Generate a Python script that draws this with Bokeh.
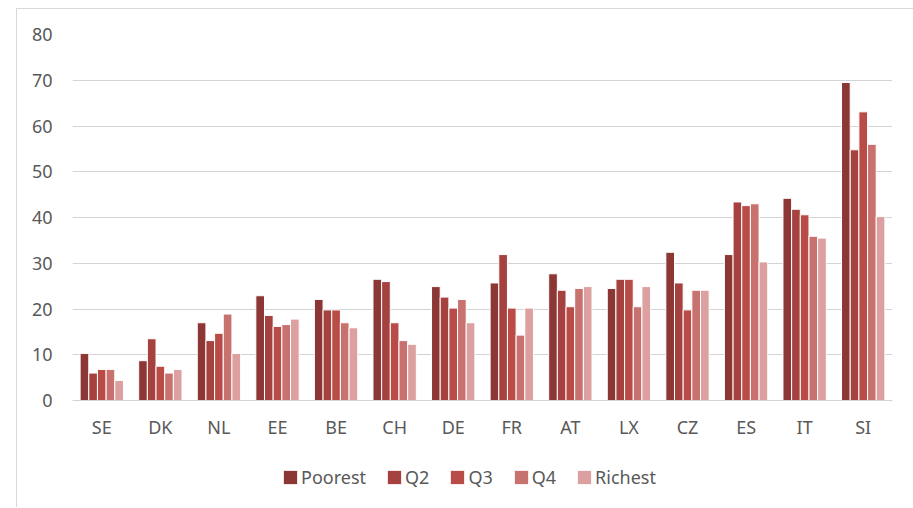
from bokeh.plotting import figure
from bokeh.models import ColumnDataSource, FactorRange, Range1d, Legend, LegendItem, FixedTicker
from bokeh.transform import dodge
from bokeh.embed import file_html
from bokeh.resources import INLINE

countries = ["SE", "DK", "NL", "EE", "BE", "CH", "DE", "FR", "AT", "LX", "CZ", "ES", "IT", "SI"]
poorest = [10.3, 8.7, 17.0, 22.9, 22.1, 26.5, 24.9, 25.7, 27.7, 24.5, 32.4, 31.9, 44.2, 69.5]
q2 = [6.0, 13.5, 13.1, 18.6, 19.8, 26.0, 22.6, 31.9, 24.1, 26.5, 25.7, 43.4, 41.8, 54.8]
q3 = [6.8, 7.5, 14.7, 16.2, 19.8, 17.0, 20.2, 20.2, 20.5, 26.5, 19.8, 42.6, 40.6, 63.1]
q4 = [6.8, 6.0, 18.9, 16.6, 17.0, 13.1, 22.1, 14.3, 24.5, 20.5, 24.1, 43.0, 35.9, 56.0]
richest = [4.4, 6.8, 10.3, 17.8, 15.9, 12.3, 17.0, 20.2, 24.9, 24.9, 24.1, 30.3, 35.5, 40.2]

series_names = ["Poorest", "Q2", "Q3", "Q4", "Richest"]
series_keys = ["poorest", "q2", "q3", "q4", "richest"]
colors = ["#8C3636", "#A5413E", "#BA4C48", "#C87270", "#DBA09F"]
y_ticks = [0, 10, 20, 30, 40, 50, 60, 70, 80]

source = ColumnDataSource(dict(country=countries, poorest=poorest, q2=q2,
                               q3=q3, q4=q4, richest=richest))

# the frame runs down to the bottom edge so the legend can sit under the axis;
# the category axis itself is pinned at y = 0
p = figure(x_range=FactorRange(*countries), y_range=Range1d(-23.6, 80),
           width=897, height=499, output_backend="svg", toolbar_location=None,
           min_border_left=55, min_border_right=22, min_border_top=25,
           min_border_bottom=0)
p.styles = {"margin-left": "16px", "margin-top": "8px",
            "border-left": "1px solid #D9D9D9", "border-top": "1px solid #D9D9D9"}
p.outline_line_color = None
p.background_fill_color = "white"
p.border_fill_color = "white"

bar_w = 0.148
offsets = [-2 * bar_w, -bar_w, 0, bar_w, 2 * bar_w]
items = []
for name, key, col, off in zip(series_names, series_keys, colors, offsets):
    r = p.vbar(x=dodge("country", off, range=p.x_range), top=key, width=bar_w,
               source=source, fill_color=col, line_color="white", line_width=1)
    items.append(LegendItem(label=name, renderers=[r]))

# axes
p.yaxis.ticker = FixedTicker(ticks=y_ticks)
p.yaxis.axis_line_color = None
p.yaxis.major_tick_line_color = None
p.yaxis.minor_tick_line_color = None
p.yaxis.major_label_standoff = 14
p.yaxis.major_label_text_font = "Noto Sans"
p.yaxis.major_label_text_font_size = "18px"
p.yaxis.major_label_text_color = "#595959"

p.xaxis.fixed_location = 0
p.xaxis.axis_line_color = "#D4D4D4"
p.xaxis.axis_line_width = 1
p.xaxis.major_tick_line_color = None
p.xaxis.minor_tick_line_color = None
p.xaxis.major_label_standoff = 8
p.xaxis.major_label_text_font = "Noto Sans"
p.xaxis.major_label_text_font_size = "18px"
p.xaxis.major_label_text_color = "#595959"

p.xgrid.grid_line_color = None
p.ygrid.grid_line_color = "#D4D4D4"
p.ygrid.grid_line_width = 1

legend = Legend(items=items, orientation="horizontal", location=(209, 19),
                glyph_width=18, glyph_height=18, label_standoff=2, spacing=19,
                label_text_font="Noto Sans", label_text_font_size="18px",
                label_text_color="#595959", border_line_color=None,
                background_fill_alpha=0, padding=0, margin=0)
p.add_layout(legend, "center")

open("out.html", "w").write(file_html(p, INLINE))
